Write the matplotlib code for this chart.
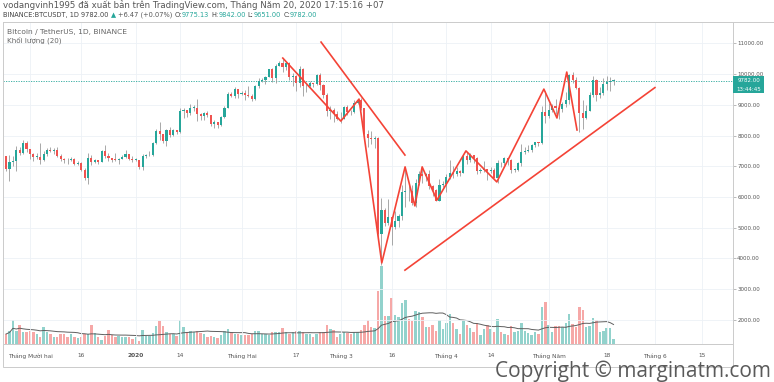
import matplotlib
matplotlib.use("Agg")
import matplotlib.pyplot as plt
import matplotlib.dates as mdates
from matplotlib.patches import Rectangle
from matplotlib.lines import Line2D
from matplotlib.colors import to_rgba
import numpy as np
import pandas as pd

W, H = 774, 382

# daily candles BINANCE:BTCUSDT, 2019-11-24 .. 2020-05-20
start_date = "2019-11-24"
first_open = 7325
close = [
    6905, 7125, 7160, 7520, 7430, 7760, 7555,  # nov
    7400, 7295, 7300, 7200, 7390, 7540, 7505, 7525, 7340, 7220, 7200, 7190, 7250, 7065, 7110, 6880,
    6615, 7280, 7150, 7190, 7145, 7510, 7320, 7255, 7205, 7195, 7245, 7300, 7385, 7220, 7195,  # dec
    7200, 6965, 7345, 7355, 7360, 7760, 8155, 8045, 7820, 8195, 8020, 8185, 8110, 8810, 8820, 8720,
    8900, 8910, 8700, 8630, 8725, 8660, 8385, 8430, 8340, 8615, 8905, 9360, 9295, 9510, 9350,  # jan
    9385, 9330, 9290, 9185, 9615, 9760, 9805, 9905, 10160, 9855, 10270, 10350, 10235, 10365, 9910,
    9935, 9700, 10165, 9595, 9595, 9700, 9665, 9965, 9650, 9315, 8785, 8825, 8690, 8525,  # feb
    8530, 8915, 8760, 8750, 9055, 9155, 8900, 8035, 7935, 7895, 7935, 4800, 5580, 5165, 5340, 5015,
    5225, 5390, 6160, 6205, 6185, 5815, 6470, 6745, 6675, 6735, 6360, 6240, 5880, 6395, 6410,  # mar
    6640, 6795, 6735, 6860, 6770, 7330, 7200, 7360, 7285, 6860, 6875, 6905, 6840, 6870, 6625, 7115,
    7095, 7255, 7190, 6880, 6880, 7120, 7480, 7505, 7540, 7695, 7775, 7760, 8780, 8620,  # apr
    8825, 8975, 8895, 8875, 9020, 9145, 9985, 9810, 9540, 8725, 8560, 8810, 9310, 9790, 9315, 9380,
    9680, 9730, 9775, 9782,  # may
]
high = [
    7345, 7355, 7325, 7655, 7620, 7870, 7810,
    7570, 7425, 7420, 7750, 7485, 7580, 7625, 7580, 7630, 7400, 7270, 7260, 7310, 7285, 7185, 7145,
    6940, 7440, 7380, 7220, 7190, 7520, 7695, 7440, 7275, 7430, 7275, 7365, 7520, 7410, 7320,
    7255, 7215, 7405, 7405, 7495, 7795, 8210, 8455, 8060, 8200, 8285, 8200, 8195, 8880, 8890, 8840,
    9010, 8990, 9195, 8720, 8770, 8795, 8670, 8520, 8435, 8625, 8975, 9400, 9425, 9570, 9525,
    9440, 9475, 9625, 9345, 9640, 9865, 9860, 9950, 10165, 10190, 10320, 10435, 10500, 10395, 10385,
    10050, 9960, 10250, 10195, 9665, 9780, 9705, 9990, 10030, 9665, 9375, 8975, 8890, 8800,
    8750, 8960, 8990, 8845, 9140, 9170, 9220, 8900, 8180, 8150, 7985, 7965, 5955, 5640, 5940, 5370,
    5560, 5440, 6390, 6900, 6460, 6400, 6590, 6840, 6960, 6790, 6870, 6375, 6260, 6600, 6525,
    6750, 7200, 7000, 6985, 6885, 7355, 7470, 7425, 7370, 7300, 6950, 7180, 6915, 6985, 6930, 7200,
    7150, 7295, 7260, 7220, 6945, 7150, 7735, 7615, 7700, 7720, 7795, 7780, 8950, 9460,
    9060, 9010, 9190, 8955, 9100, 9400, 10000, 10065, 9910, 9575, 9170, 8980, 9400, 9930, 9845, 9585,
    9880, 9950, 9900, 9842,
]
low = [
    6860, 6515, 7010, 6860, 7360, 7410, 7450,
    7225, 7165, 7250, 7075, 7175, 7345, 7460, 7410, 7300, 7175, 7120, 7065, 7185, 7035, 7025, 6850,
    6555, 6435, 7035, 7100, 7085, 7125, 7265, 7165, 7130, 7160, 7060, 7235, 7280, 7190, 7150,
    7175, 6925, 6870, 7275, 7320, 7345, 7720, 7870, 7750, 7670, 7955, 7970, 8055, 8080, 8580, 8600,
    8675, 8810, 8470, 8515, 8500, 8595, 8300, 8240, 8230, 8300, 8565, 8885, 9255, 9215, 9210,
    9305, 9150, 9250, 9110, 9165, 9535, 9725, 9675, 9895, 9730, 9705, 10250, 10080, 10130, 9800,
    9600, 9450, 9575, 9300, 9400, 9565, 9580, 9650, 9470, 9230, 8640, 8530, 8440, 8510,
    8410, 8525, 8660, 8665, 8740, 9010, 8845, 8000, 7630, 7730, 7590, 4575, 3782, 5060, 5100, 4440,
    4965, 5020, 5260, 5670, 5855, 5750, 5690, 6380, 6450, 6530, 6250, 6020, 5870, 5855, 6330,
    6155, 6570, 6615, 6685, 6670, 6765, 7080, 7150, 7110, 6750, 6780, 6810, 6555, 6770, 6610, 6465,
    6980, 7035, 7055, 6790, 6810, 6855, 7020, 7390, 7450, 7480, 7615, 7660, 7725, 8400,
    8580, 8750, 8710, 8530, 8755, 8930, 9025, 9700, 9520, 8115, 8200, 8530, 8800, 9255, 9135, 9220,
    9330, 9470, 9460, 9651,
]
# volume, thousand BTC
vol_k = [
    50, 65, 120, 65, 95, 60, 60, 65, 60, 50,
    35, 85, 60, 50, 35, 35, 50, 50, 35, 50,
    35, 30, 35, 50, 50, 95, 55, 35, 20, 40,
    70, 45, 35, 40, 35, 35, 35, 25, 35, 15,
    70, 40, 40, 55, 90, 115, 90, 60, 50, 50,
    40, 120, 85, 60, 65, 60, 65, 55, 50, 35,
    40, 35, 30, 45, 65, 75, 60, 50, 50, 45,
    45, 45, 50, 65, 65, 50, 50, 45, 60, 60,
    60, 80, 60, 50, 60, 65, 65, 60, 50, 50,
    35, 50, 60, 60, 95, 75, 70, 35,
    50, 60, 55, 50, 60, 60, 70, 95, 120, 85, 80, 265, 390, 140, 140, 230, 145, 135,
    205, 220, 125, 115, 165, 160, 135, 85, 85, 95, 65, 120, 75, 105, 150, 105, 75, 50, 120, 95,
    80, 60, 105, 45, 75, 95, 75, 60, 125, 60, 50, 45, 90, 60, 65, 105, 65, 55, 45, 60,
    50, 185, 210, 95, 60, 90, 90, 85, 105, 150, 100, 85, 185, 170, 85, 90, 130, 120, 60, 65,
    80, 80, 25,
]

tick_dates = ["2019-12-01", "2019-12-16", "2020-01-01", "2020-01-14", "2020-02-01", "2020-02-17",
              "2020-03-01", "2020-03-16", "2020-04-01", "2020-04-14", "2020-05-01", "2020-05-18",
              "2020-06-01", "2020-06-15"]
tick_labels = ["Tháng Mười hai", "16", "2020", "14", "Tháng Hai", "17", "Tháng 3", "16",
               "Tháng 4", "14", "Tháng Năm", "18", "Tháng 6", "15"]
price_ticks = [2000, 3000, 4000, 5000, 6000, 7000, 8000, 9000, 10000, 11000]

# hand drawn red lines (time, price)
zigzag_t = ["2020-02-13 02:00", "2020-03-01 02:00", "2020-03-06 10:00", "2020-03-13 02:00",
            "2020-03-19 22:00", "2020-03-22 19:00", "2020-03-24 22:00", "2020-03-29 06:00",
            "2020-04-06 18:00", "2020-04-15 19:00", "2020-04-29 14:00", "2020-05-03 10:00",
            "2020-05-06 07:00", "2020-05-09 07:00"]
zigzag_p = [10520, 8470, 9185, 3855, 6980, 5710, 6980, 5900, 7500, 6490, 9510, 8570, 10065, 8180]
down_t = ["2020-02-24 07:00", "2020-03-19 21:00"]
down_p = [11040, 7365]
up_t = ["2020-03-19 21:00", "2020-06-01 03:00"]
up_p = [3620, 9560]

last_price = 9782.00
countdown = "13:44:45"

UP = "#26a69a"
DN = "#ef5350"
RED = "#f44336"
GRID = "#edf1f6"
FRAME = "#cbcbcb"
TXT = "#555555"


def fx(px):
    return px / W


def fy(py):
    return 1 - py / H


dates = pd.date_range(start_date, periods=len(close), freq="D")
x = mdates.date2num(dates)
c = np.array(close, float)
o = np.array([first_open] + close[:-1], float)
up = c >= o

fig = plt.figure(figsize=(W / 100, H / 100), dpi=100)
fig.patch.set_facecolor("white")

L, R, T, B = 3, 733, 22, 344
rect = [fx(L), fy(B), (R - L) / W, (B - T) / H]
ax_vol = fig.add_axes(rect)
ax = fig.add_axes(rect, sharex=ax_vol)
ax.patch.set_visible(False)

day0 = mdates.date2num(pd.Timestamp("2019-12-01"))
ax.set_xlim(day0 - 7.9, day0 + 206.0)
ax.set_ylim(1218, 11693)

# volume overlay
vcol = [to_rgba(UP if u else DN, 0.5) for u in up]
ax_vol.bar(x, vol_k, width=0.72, color=vcol, linewidth=0)
ma = pd.Series(vol_k, dtype=float).rolling(20, min_periods=1).mean()
ax_vol.plot(x, ma, color="#5f5f5f", lw=0.7)
ax_vol.set_ylim(0, 1610)
ax_vol.set_axis_off()

# grid
tick_x = mdates.date2num(pd.to_datetime(tick_dates))
ax.set_xticks(tick_x)
ax.set_xticklabels(tick_labels)
ax.set_yticks(price_ticks)
ax.set_yticklabels([f"{p:.2f}" for p in price_ticks])
ax.grid(True, color=GRID, lw=0.6, zorder=0)
ax.set_axisbelow(True)

# candles
ccol = np.where(up, UP, DN)
ax.vlines(x, low, high, color="#9a9a9a", lw=0.6, zorder=3)
ax.bar(x, np.maximum(np.abs(c - o), 25), bottom=np.minimum(o, c), width=0.62,
       color=ccol, linewidth=0, zorder=4)

ax.axhline(last_price, color=UP, lw=0.6, ls=(0, (1.5, 1.5)), zorder=2)

# drawings
ax.plot(mdates.date2num(pd.to_datetime(zigzag_t)), zigzag_p, color=RED, lw=1.2, zorder=6)
ax.plot(mdates.date2num(pd.to_datetime(down_t)), down_p, color=RED, lw=1.2, zorder=6)
ax.plot(mdates.date2num(pd.to_datetime(up_t)), up_p, color=RED, lw=1.2, zorder=6)

# axes styling
ax.yaxis.tick_right()
ax.tick_params(axis="y", labelsize=4, labelcolor=TXT, color="#a0a0a0", length=2, width=0.5, pad=1)
ax.tick_params(axis="x", labelsize=4.2, labelcolor=TXT, length=0, pad=6.5)
for lab in ax.get_xticklabels():
    if lab.get_text() == "2020":
        lab.set_fontweight("bold")
for s in ax.spines.values():
    s.set_color(FRAME)
    s.set_linewidth(0.7)

# time axis strip + extended top frame
fig.add_artist(Rectangle((fx(L), fy(367)), (R - L) / W, (367 - B) / H, transform=fig.transFigure,
                         fill=False, ec=FRAME, lw=0.7))
fig.add_artist(Line2D([fx(R), 1], [fy(T), fy(T)], transform=fig.transFigure, color=FRAME, lw=0.7))

# last price label
py = H - ax.transData.transform((day0, last_price))[1]
fig.add_artist(Rectangle((fx(R), fy(py + 12.3)), 31 / W, 16.6 / H, transform=fig.transFigure,
                         fc=UP, ec="none", zorder=10))
fig.text(fx(748.5), fy(py), f"{last_price:.2f}", fontsize=4, color="white", ha="center", va="center", zorder=11)
fig.text(fx(748.5), fy(py + 8.3), countdown, fontsize=4, color="white", ha="center", va="center", zorder=11)

# header texts
renderer = fig.canvas.get_renderer()


def text_w(s, size):
    t = fig.text(0, 0, s, fontsize=size)
    w = t.get_window_extent(renderer).width
    t.remove()
    return w


def advance(s, size):
    return text_w("|" + s + "|", size) - text_w("||", size)


def text_line(x_px, y_px, segs, width_px):
    full = "".join(s for s, _ in segs)
    size = 10 * width_px / advance(full, 10)
    done = ""
    for s, col in segs:
        lead = len(s) - len(s.lstrip(" "))
        xx = x_px + advance(done + s[:lead], size)
        fig.text(fx(xx), fy(y_px), s.strip(" "), fontsize=size, color=col, va="center", ha="left")
        done += s


text_line(3, 5.5, [("vodangvinh1995 đã xuất bản trên TradingView.com, Tháng Năm 20, 2020 17:15:16 +07", TXT)], 380)
text_line(3, 15, [("BINANCE:BTCUSDT, 1D 9782.00", "#444444"), (" ▲", UP), (" +6.47 (+0.07%)", TXT),
                  (" O:", "#444444"), ("9775.13", UP), (" H:", "#444444"), ("9842.00", UP),
                  (" L:", "#444444"), ("9651.00", UP), (" C:", "#444444"), ("9782.00", UP)], 314)
text_line(7, 32, [("Bitcoin / TetherUS, 1D, BINANCE", "#666666")], 120)
text_line(7, 40, [("Khối lượng (20)", "#666666")], 55)

fig.text(fx(771), fy(371), "Copyright © marginatm.com", ha="right", va="center", fontsize=15,
         color="#5a5a5a", family="Open Sans")

fig.savefig("out.png", dpi=100)
